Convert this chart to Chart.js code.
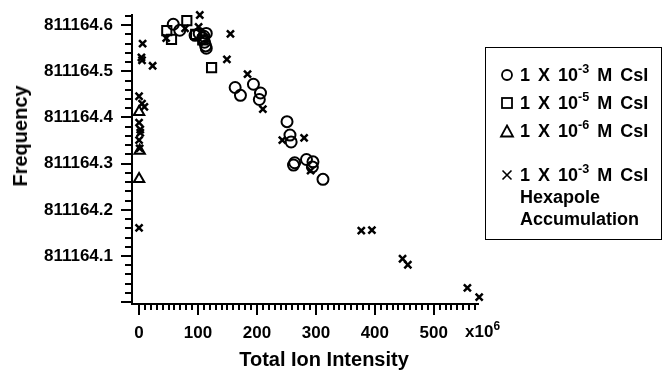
<!DOCTYPE html>
<html><head><meta charset="utf-8">
<script src="https://cdn.jsdelivr.net/npm/chart.js@4.4.0/dist/chart.umd.min.js"></script>
<style>
html,body{margin:0;padding:0;background:#fff;}
#wrap{position:relative;width:663px;height:370px;overflow:hidden;font-family:Arial,"Liberation Sans",sans-serif;font-weight:bold;color:#000;}
canvas{position:absolute;left:0;top:0;}
.t{position:absolute;white-space:nowrap;line-height:1;}
.t sup{font-size:0.7em;line-height:0;position:relative;top:-0.05em;vertical-align:super;}
.lg{word-spacing:3px;}
#legend{position:absolute;left:485px;top:47px;width:175px;height:191px;border:1.5px solid #000;}
.mk{position:absolute;}
</style></head>
<body><div id="wrap">
<canvas id="c" width="663" height="370"></canvas>
<div class="t" style="font-size:20px;left:20px;top:136px;transform:translate(-50%,-50%) rotate(-90deg);">Frequency</div>
<div class="t" style="font-size:20px;left:324px;top:359px;transform:translate(-50%,-50%);">Total Ion Intensity</div>
<div class="t" style="font-size:17px;left:465px;top:331px;transform:translateY(-50%);">x10<sup>6</sup></div>
<div id="legend"></div>
<svg class="mk" style="left:500px;top:68px" width="14" height="14"><circle cx="7" cy="7" r="5" fill="none" stroke="#000" stroke-width="1.8"/></svg>
<div class="t lg" style="font-size:18px;left:520px;top:75px;transform:translateY(-50%);">1 X 10<sup>-3</sup> M CsI</div>
<svg class="mk" style="left:500px;top:96px" width="14" height="14"><rect x="2" y="2" width="10" height="10" fill="none" stroke="#000" stroke-width="1.8"/></svg>
<div class="t lg" style="font-size:18px;left:520px;top:103px;transform:translateY(-50%);">1 X 10<sup>-5</sup> M CsI</div>
<svg class="mk" style="left:499px;top:124px" width="16" height="14"><polygon points="8,1.5 14,12.5 2,12.5" fill="none" stroke="#000" stroke-width="1.8"/></svg>
<div class="t lg" style="font-size:18px;left:520px;top:131px;transform:translateY(-50%);">1 X 10<sup>-6</sup> M CsI</div>
<svg class="mk" style="left:500px;top:168px" width="14" height="14"><path d="M2.5,2.5 L11.5,11.5 M11.5,2.5 L2.5,11.5" stroke="#000" stroke-width="1.6"/></svg>
<div class="t lg" style="font-size:18px;left:520px;top:175px;transform:translateY(-50%);">1 X 10<sup>-3</sup> M CsI</div>
<div class="t" style="font-size:18px;left:520px;top:197px;transform:translateY(-50%);">Hexapole</div>
<div class="t" style="font-size:18px;left:520px;top:219px;transform:translateY(-50%);">Accumulation</div>
</div>
<script>
// Data (x in units of 10^6, y = frequency)
const circX = [58, 69, 95, 102, 108, 110, 114, 111, 113, 114, 163, 172, 194, 206, 204, 251, 256, 258, 262, 264, 284, 295, 294, 312];
const circY = [811164.602, 811164.589, 811164.578, 811164.582, 811164.572, 811164.576, 811164.582, 811164.563, 811164.555, 811164.550, 811164.465, 811164.448, 811164.472, 811164.453, 811164.439, 811164.391, 811164.362, 811164.347, 811164.297, 811164.302, 811164.309, 811164.304, 811164.293, 811164.266];
const sqX = [47, 55, 81, 96, 108, 123];
const sqY = [811164.588, 811164.569, 811164.610, 811164.580, 811164.568, 811164.508];
const triX = [0, 1, 0];
const triY = [811164.412, 811164.328, 811164.267];
const hexX = [0, 9, 5, 0, 2, 2, 0, 1, 6, 4, 5, 23, 0, 103, 101, 46, 78, 155, 149, 184, 210, 243, 280, 291, 377, 395, 447, 456, 557, 577];
const hexY = [811164.446, 811164.423, 811164.430, 811164.389, 811164.374, 811164.367, 811164.351, 811164.333, 811164.560, 811164.530, 811164.524, 811164.512, 811164.161, 811164.622, 811164.596, 811164.572, 811164.593, 811164.581, 811164.526, 811164.494, 811164.418, 811164.351, 811164.356, 811164.285, 811164.155, 811164.156, 811164.094, 811164.081, 811164.031, 811164.011];
const xTicks = [0, 100, 200, 300, 400, 500];
const yTicks = [811164.1, 811164.2, 811164.3, 811164.4, 811164.5, 811164.6];
const xMinorStep = 10, yMinorStep = 0.02;

const pts = (xs, ys) => xs.map((x, i) => ({x: x, y: ys[i]}));
const FONT = 'Arial, "Liberation Sans", sans-serif';

const tickPlugin = {
  id: 'minorTicks',
  afterDraw(chart) {
    const ctx = chart.ctx, a = chart.chartArea;
    const xs = chart.scales.x, ys = chart.scales.y;
    ctx.save();
    ctx.strokeStyle = '#000';
    ctx.lineWidth = 2;
    ctx.beginPath();
    for (let i = 0; i * xMinorStep <= xs.max; i++) {
      const v = i * xMinorStep;
      const p = Math.round(xs.getPixelForValue(v));
      const L = (i % 10 === 0) ? 11 : 6;
      ctx.moveTo(p, a.bottom); ctx.lineTo(p, a.bottom + L);
    }
    const y0 = 811164.0;
    for (let i = 0; y0 + i * yMinorStep <= ys.max + 1e-9; i++) {
      const v = y0 + i * yMinorStep;
      const p = Math.round(ys.getPixelForValue(v));
      const L = (i % 5 === 0) ? 11 : 7;
      ctx.moveTo(a.left, p); ctx.lineTo(a.left - L, p);
    }
    ctx.stroke();
    ctx.restore();
  }
};

new Chart(document.getElementById('c'), {
  type: 'scatter',
  data: {
    datasets: [
      {label: '1 X 10-3 M CsI', data: pts(circX, circY), pointStyle: 'circle', pointRadius: 5.5, borderColor: '#000', backgroundColor: 'rgba(0,0,0,0)', borderWidth: 2, clip: false},
      {label: '1 X 10-5 M CsI', data: pts(sqX, sqY), pointStyle: 'rect', pointRadius: 6.5, borderColor: '#000', backgroundColor: 'rgba(0,0,0,0)', borderWidth: 2, clip: false},
      {label: '1 X 10-6 M CsI', data: pts(triX, triY), pointStyle: 'triangle', pointRadius: 6, borderColor: '#000', backgroundColor: 'rgba(0,0,0,0)', borderWidth: 2, clip: false},
      {label: 'Hexapole Accumulation', data: pts(hexX, hexY), pointStyle: 'crossRot', pointRadius: 5, borderColor: '#000', backgroundColor: '#000', borderWidth: 2.5, clip: false}
    ]
  },
  options: {
    responsive: false,
    animation: false,
    events: [],
    layout: {padding: {left: 0, top: 15, right: 185, bottom: 0}},
    plugins: {legend: {display: false}, tooltip: {enabled: false}},
    scales: {
      x: {
        type: 'linear', min: -12, max: 575,
        afterBuildTicks: s => { s.ticks = xTicks.map(v => ({value: v})); },
        afterFit: s => { s.height = 66; s.paddingLeft = 0; s.paddingRight = 0; },
        grid: {display: false},
        border: {display: true, color: '#000', width: 2},
        ticks: {color: '#000', font: {family: FONT, size: 17, weight: 'bold'}, padding: 11, maxRotation: 0, callback: v => String(v)}
      },
      y: {
        type: 'linear', min: 811163.996, max: 811164.622,
        afterBuildTicks: s => { s.ticks = yTicks.map(v => ({value: v})); },
        afterFit: s => { s.width = 132; s.paddingTop = 0; s.paddingBottom = 0; },
        grid: {display: false},
        border: {display: true, color: '#000', width: 2},
        ticks: {color: '#000', font: {family: FONT, size: 17, weight: 'bold'}, padding: 11, callback: v => Number(v).toFixed(1)}
      }
    }
  },
  plugins: [tickPlugin]
});
</script>
</body></html>
